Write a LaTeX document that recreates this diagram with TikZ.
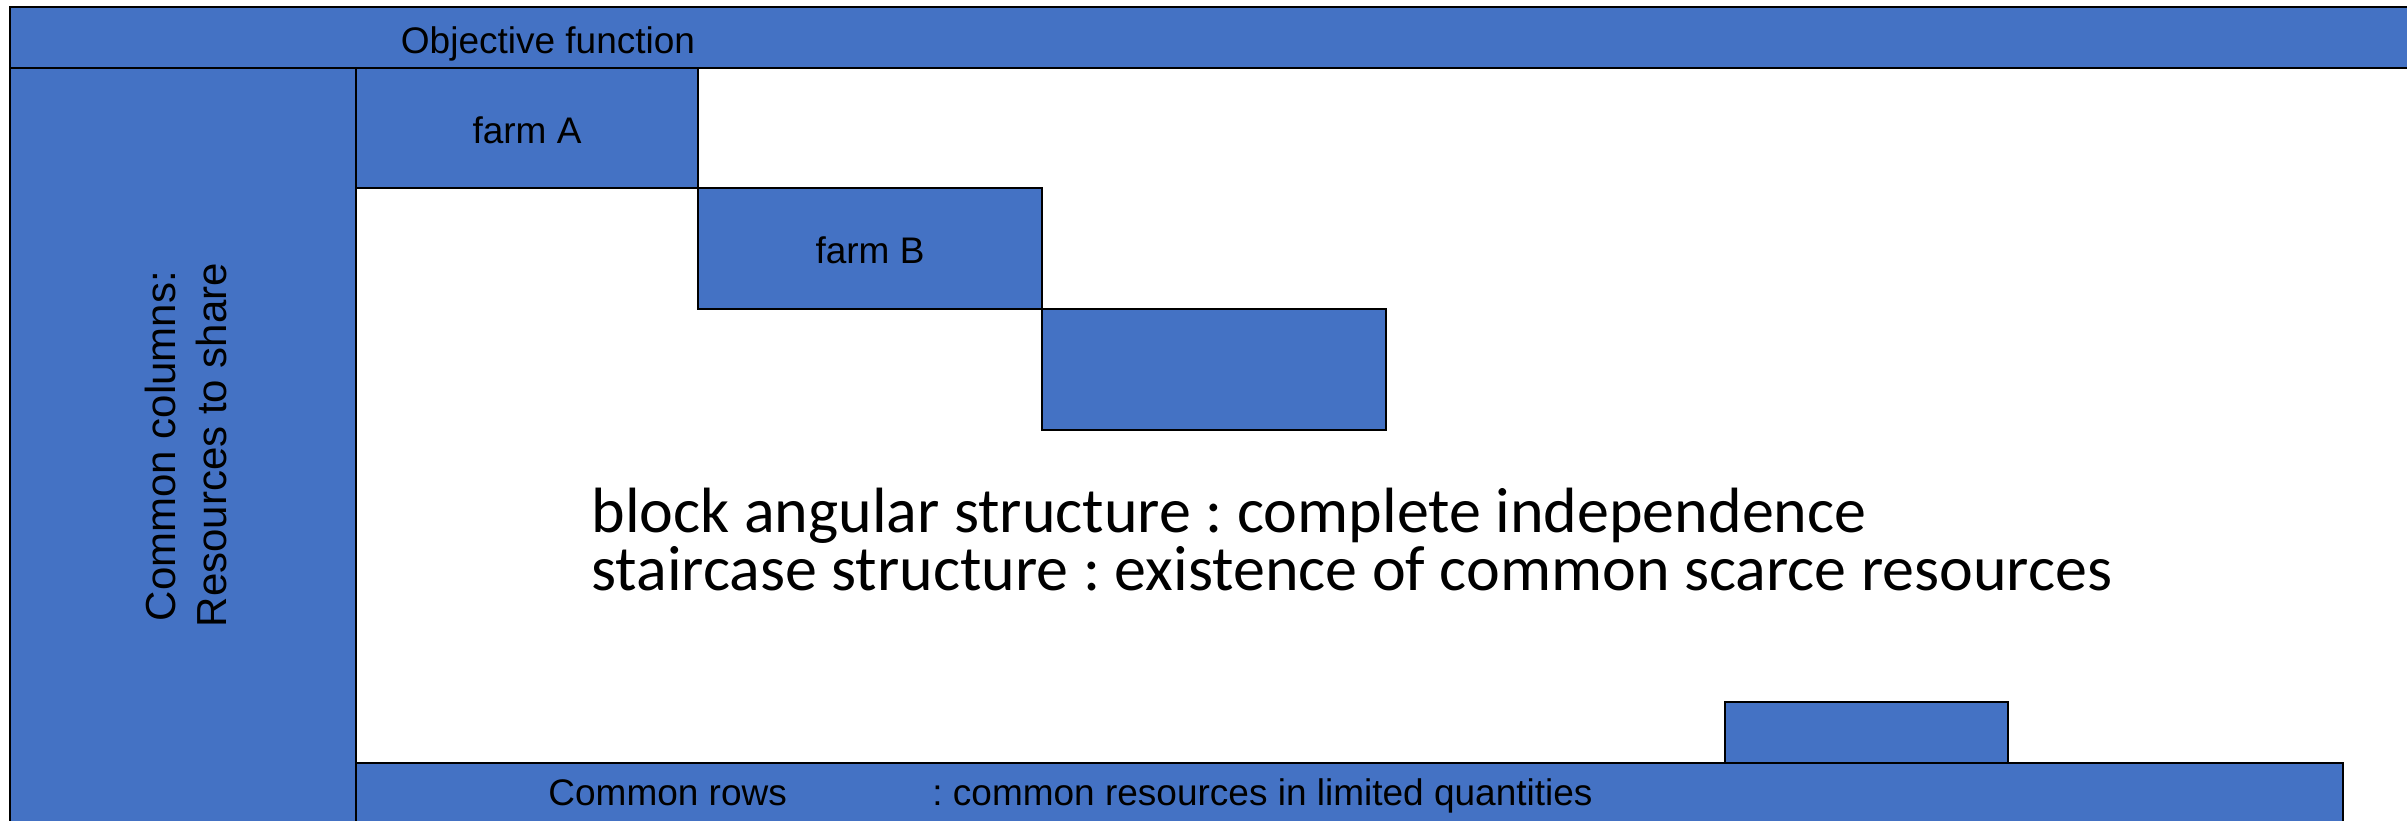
\documentclass[tikz,border=0pt]{standalone}
\usepackage{fontspec}
\setmainfont{Liberation Sans}
\newfontfamily\calib{Carlito}
\definecolor{blk}{HTML}{4472C4}
\frenchspacing
\begin{document}
\begin{tikzpicture}[x=0.5pt,y=-0.5pt,
  blockbox/.style={fill=blk,draw=black,line width=0.9pt},
  lbl/.style={inner sep=0pt,anchor=base,font=\fontsize{18.5}{22}\selectfont},
  vlbl/.style={inner sep=0pt,anchor=base,rotate=90,font=\fontsize{21}{25}\selectfont},
  note/.style={inner sep=0pt,anchor=base west,align=left,font=\calib\fontsize{32}{26.5}\selectfont}]
\clip (0,0) rectangle (2407,820);
\fill[white] (0,0) rectangle (2407,820);
% blocks
\draw[blockbox] (356,68) rectangle (698,188);
\draw[blockbox] (698,188) rectangle (1042,309);
\draw[blockbox] (1042,309) rectangle (1386,430);
\draw[blockbox] (1725,702) rectangle (2008,763);
\draw[blockbox] (356,763) rectangle (2343,840);
\draw[blockbox] (10,68) rectangle (356,840);
\draw[blockbox] (10,7) rectangle (2430,68);
% labels
\node[lbl] (obj) at (548,53) {Objective function};
\node[lbl] (fa) at (527,143) {farm A};
\node[lbl] (fb) at (870,263) {farm B};
\node[vlbl] (cc1) at (175,446) {Common columns:};
\node[vlbl] (cc2) at (226,445) {Resources to share};
\node[lbl,anchor=base west] (cr) at (548,805) {Common rows};
\node[lbl,anchor=base west] (crd) at (932,805) {: common resources in limited quantities};
\node[note] (n1) at (591,590) {block angular structure : complete independence\\staircase structure : existence of common scarce resources};
\end{tikzpicture}
\end{document}
